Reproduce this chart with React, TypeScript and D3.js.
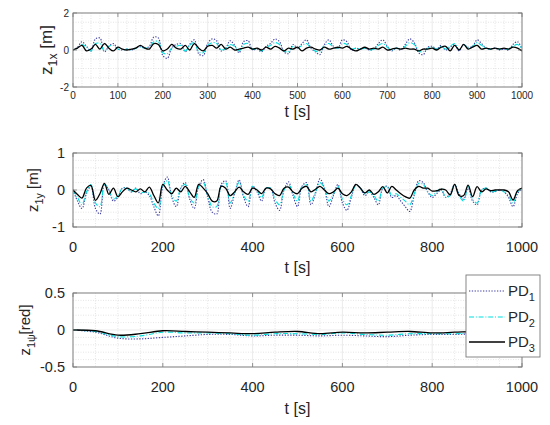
import * as d3 from "d3";

const WIDTH = 550;
const HEIGHT = 425;
const LEFT = 73;
const RIGHT = 522;
const PLOT_H = 74;

// sample times (s)
const time10 = d3.range(0, 1001, 10);
const time50 = d3.range(0, 1001, 50);

// z1x [m], every 10 s
const zxPD1 = [0, 0.15, 0.45, 0.2, -0.05, 0.6, 0.65, -0.1, 0.2, 0.35, 0.05, 0, 0.05, 0, 0.1, 0.2, 0.1, 0.2, 0.7, 0.65, -0.3, -0.45, 0.1, 0.3, 0.35, -0.1, 0.3, 0.55, -0.2, -0.3, 0.35, 0.6, 0.5, -0.05, 0.1, 0.5, 0.25, -0.15, 0.45, 0.5, 0, 0.05, -0.1, 0.2, 0.35, 0.6, 0.45, -0.1, -0.2, 0.3, 0.1, 0.35, 0.55, 0.1, -0.1, -0.25, 0.3, 0.55, 0.2, 0.1, 0.55, 0.45, 0, 0.1, 0.05, 0.1, 0, 0.05, 0.35, 0.55, 0.2, -0.05, 0.1, 0, 0.3, 0.6, 0.4, -0.15, -0.25, 0.15, 0.2, 0.05, 0.25, 0, 0.15, 0.3, -0.05, 0.3, 0.15, 0.2, 0.55, 0.35, 0.1, 0.05, 0.1, 0, 0.05, 0, 0.3, 0.45, 0.05];
const zxPD2 = [0, 0.1, 0.3, 0.15, -0.05, 0.35, 0.35, -0.05, 0.2, 0.25, 0.05, 0, 0.05, 0, 0.1, 0.15, 0.1, 0.15, 0.45, 0.45, -0.15, -0.2, 0.1, 0.2, 0.25, -0.05, 0.25, 0.4, -0.1, -0.15, 0.25, 0.4, 0.35, 0, 0.1, 0.3, 0.2, -0.05, 0.3, 0.35, 0.05, 0.05, -0.05, 0.15, 0.25, 0.4, 0.3, -0.05, -0.1, 0.2, 0.1, 0.25, 0.35, 0.1, -0.05, -0.1, 0.25, 0.35, 0.15, 0.1, 0.35, 0.3, 0.05, 0.1, 0.05, 0.1, 0, 0.05, 0.25, 0.35, 0.15, 0, 0.1, 0.05, 0.2, 0.4, 0.3, -0.05, -0.1, 0.1, 0.15, 0.05, 0.2, 0.05, 0.2, 0.35, 0, 0.3, 0.1, 0.2, 0.4, 0.25, 0.1, 0.05, 0.1, 0.05, 0.05, 0.05, 0.2, 0.3, 0.05];
const zxPD3 = [0, 0.1, 0.25, -0.05, 0.05, 0.3, 0.05, 0.35, 0.1, -0.05, 0.15, 0.05, 0, 0.05, 0.1, 0.25, 0.1, 0.05, 0.35, 0.3, -0.05, 0.05, 0.3, 0.1, 0.05, 0.25, 0, 0.35, 0.1, -0.05, 0.2, 0.25, 0.1, 0.3, 0.05, 0.15, 0, 0.05, 0.1, 0.15, 0.05, 0.1, 0, 0.15, 0.05, 0.2, 0.1, -0.05, 0.1, 0.05, 0.15, -0.05, 0.1, 0.15, 0.05, 0, 0.15, 0.05, 0.1, 0.15, 0.1, 0.2, 0.05, -0.05, 0.05, 0.15, 0.05, 0.1, 0.05, 0.15, 0, 0.05, 0.1, 0.05, 0.1, 0.05, 0.05, -0.05, 0.05, 0.05, 0.1, 0, 0.15, 0.2, -0.05, 0.25, 0, 0.3, 0.05, 0.15, 0.25, 0.05, 0.1, 0.05, 0.1, 0.05, 0.1, 0.05, 0.15, 0.1, -0.05];

// z1y [m], every 10 s
const zyPD1 = [0, -0.3, -0.5, -0.1, 0.1, -0.5, -0.65, 0.15, 0, -0.3, -0.2, 0.05, 0.05, -0.05, 0.05, -0.1, -0.05, -0.15, -0.45, -0.7, 0.1, 0.35, -0.2, -0.45, 0.05, 0.2, -0.25, -0.5, 0.1, 0.28, -0.2, -0.6, -0.65, 0.15, 0.25, -0.5, -0.1, 0.27, -0.2, -0.45, 0.1, -0.05, -0.3, 0.05, 0.05, -0.35, -0.55, 0, 0.22, -0.15, -0.45, 0.1, 0.2, -0.4, -0.1, 0.3, 0.05, -0.45, -0.15, 0.15, -0.35, -0.55, -0.2, 0.15, 0.05, -0.15, -0.05, -0.2, -0.4, 0.05, 0.1, -0.2, -0.15, -0.3, -0.45, -0.58, -0.15, 0.25, 0.2, -0.05, -0.2, -0.1, 0, -0.2, -0.1, 0.15, -0.1, -0.25, 0.05, -0.3, -0.4, 0, 0.05, -0.05, -0.05, 0, -0.05, -0.2, -0.45, -0.1, 0.05];
const zyPD2 = [0, -0.2, -0.4, -0.05, 0.15, -0.35, -0.45, 0.15, 0, -0.25, -0.15, 0.05, 0.05, -0.05, 0.03, -0.08, -0.05, -0.1, -0.35, -0.5, 0.1, 0.25, -0.15, -0.3, 0.05, 0.15, -0.2, -0.35, 0.1, 0.2, -0.15, -0.45, -0.45, 0.1, 0.2, -0.35, -0.05, 0.2, -0.15, -0.3, 0.1, 0, -0.2, 0.05, 0.05, -0.25, -0.4, 0, 0.15, -0.1, -0.3, 0.1, 0.15, -0.3, -0.05, 0.2, 0.05, -0.3, -0.1, 0.1, -0.25, -0.4, -0.15, 0.12, 0.05, -0.1, -0.05, -0.15, -0.3, 0.05, 0.08, -0.15, -0.1, -0.2, -0.3, -0.4, -0.1, 0.18, 0.15, -0.05, -0.15, -0.05, 0.05, -0.2, -0.15, 0.15, -0.15, -0.3, 0.1, -0.25, -0.35, 0, 0.05, -0.05, -0.03, 0, -0.05, -0.15, -0.35, -0.05, 0.05];
const zyPD3 = [0, -0.12, -0.22, 0.05, 0.12, -0.28, -0.1, 0.18, -0.12, 0.05, -0.18, -0.05, 0.05, 0, -0.05, 0.03, -0.05, 0.08, -0.15, -0.35, 0.15, 0, -0.1, 0.05, -0.05, 0.1, -0.05, -0.2, 0.15, 0.05, -0.1, -0.3, -0.3, 0.1, 0.05, -0.15, -0.05, 0.08, -0.05, -0.12, 0.05, 0, -0.1, 0.05, 0.03, -0.1, -0.15, 0.05, 0.08, -0.05, -0.1, 0.05, 0.1, -0.05, 0.02, 0.1, 0, -0.1, -0.05, 0.05, -0.1, -0.15, -0.05, 0.15, 0.05, -0.08, 0, -0.12, -0.05, 0.09, -0.08, 0.1, 0, -0.1, -0.18, -0.22, 0, 0.1, 0.05, 0.05, -0.03, -0.02, 0.02, 0, -0.13, 0.15, -0.15, -0.15, 0.13, -0.18, 0.09, -0.05, 0.03, -0.02, 0, 0, 0, -0.05, -0.27, -0.02, 0.05];

// z1psi [rad], every 50 s
const zpPD1 = [0, -0.03, -0.11, -0.12, -0.1, -0.08, -0.06, -0.06, -0.08, -0.07, -0.07, -0.08, -0.07, -0.08, -0.09, -0.07, -0.06, -0.06, -0.05, -0.05, -0.05];
const zpPD2 = [0, -0.02, -0.09, -0.08, -0.03, -0.04, -0.04, -0.05, -0.07, -0.05, -0.05, -0.06, -0.04, -0.06, -0.07, -0.05, -0.05, -0.05, -0.04, -0.04, -0.04];
const zpPD3 = [0, -0.01, -0.07, -0.05, -0.01, -0.02, -0.03, -0.04, -0.05, -0.03, -0.02, -0.05, -0.03, -0.04, -0.03, -0.02, -0.04, -0.03, -0.02, -0.02, -0.02];

const legendNames = ["PD", "PD", "PD"];
const legendSubs = ["1", "2", "3"];

const STYLES = [
  { color: "#3a3aa0", dash: "1.3 1.5", width: 1.1 },
  { color: "#00dede", dash: "5 1.8 1 1.8", width: 1.1 },
  { color: "#000000", dash: undefined, width: 1.3 },
];

const FONT = "'Liberation Sans', Arial, sans-serif";
const TXT = "#262626";

interface PanelProps {
  id: string;
  top: number;
  yDomain: [number, number];
  yTicks: number[];
  yMinor: number;
  xTickStep: number;
  xMinor: number;
  tickFont: number;
  tickLabelY: number;
  yTickX: number;
  times: number[];
  series: number[][];
  yMain: string;
  ySub: string;
  yUnit: string;
  yLabelX: number;
  yLabelFont: number;
  xLabelY: number;
}

function Panel(p: PanelProps) {
  const bottom = p.top + PLOT_H;
  const x = d3.scaleLinear().domain([0, 1000]).range([LEFT, RIGHT]);
  const y = d3.scaleLinear().domain(p.yDomain).range([bottom, p.top]);
  const xTicks = d3.range(0, 1001, p.xTickStep);
  const xMinor = d3.range(0, 1001, p.xMinor).filter((v) => v % p.xTickStep !== 0);
  const yMinor = d3
    .range(p.yDomain[0], p.yDomain[1] + 1e-9, p.yMinor)
    .filter((v) => !p.yTicks.some((t) => Math.abs(t - v) < 1e-9));
  const line = d3
    .line<number>()
    .x((_, i) => x(p.times[i]))
    .y((d) => y(d))
    .curve(d3.curveCatmullRom.alpha(0.5));
  const tl = 4;

  return (
    <g>
      <defs>
        <clipPath id={`clip-${p.id}`}>
          <rect x={LEFT} y={p.top} width={RIGHT - LEFT} height={PLOT_H} />
        </clipPath>
      </defs>
      <rect x={LEFT} y={p.top} width={RIGHT - LEFT} height={PLOT_H} fill="#fff" />
      {xMinor.map((v) => (
        <line key={`xm${v}`} x1={x(v)} x2={x(v)} y1={p.top} y2={bottom} stroke="#d4d4d4" strokeWidth={0.6} strokeDasharray="1 1.5" />
      ))}
      {yMinor.map((v) => (
        <line key={`ym${v}`} x1={LEFT} x2={RIGHT} y1={y(v)} y2={y(v)} stroke="#d4d4d4" strokeWidth={0.6} strokeDasharray="1 1.5" />
      ))}
      {xTicks.map((v) => (
        <line key={`xg${v}`} x1={x(v)} x2={x(v)} y1={p.top} y2={bottom} stroke="#e2e2e2" strokeWidth={0.7} />
      ))}
      {p.yTicks.map((v) => (
        <line key={`yg${v}`} x1={LEFT} x2={RIGHT} y1={y(v)} y2={y(v)} stroke="#e2e2e2" strokeWidth={0.7} />
      ))}
      <g clipPath={`url(#clip-${p.id})`}>
        {p.series.map((s, i) => (
          <path
            key={i}
            d={line(s) ?? ""}
            fill="none"
            stroke={STYLES[i].color}
            strokeWidth={STYLES[i].width}
            strokeDasharray={STYLES[i].dash}
          />
        ))}
      </g>
      {xTicks.map((v) => (
        <g key={`xt${v}`} stroke="#7a7a7a" strokeWidth={0.8}>
          <line x1={x(v)} x2={x(v)} y1={bottom} y2={bottom - tl} />
          <line x1={x(v)} x2={x(v)} y1={p.top} y2={p.top + tl} />
        </g>
      ))}
      {p.yTicks.map((v) => (
        <g key={`yt${v}`} stroke="#7a7a7a" strokeWidth={0.8}>
          <line x1={LEFT} x2={LEFT + tl} y1={y(v)} y2={y(v)} />
          <line x1={RIGHT} x2={RIGHT - tl} y1={y(v)} y2={y(v)} />
        </g>
      ))}
      <rect x={LEFT} y={p.top} width={RIGHT - LEFT} height={PLOT_H} fill="none" stroke="#7a7a7a" strokeWidth={0.9} />
      {xTicks.map((v) => (
        <text key={`xl${v}`} x={x(v)} y={p.tickLabelY} textAnchor="middle" fontSize={p.tickFont} fill={TXT}>
          {v}
        </text>
      ))}
      {p.yTicks.map((v) => (
        <text key={`yl${v}`} x={p.yTickX} y={y(v)} dy="0.35em" textAnchor="end" fontSize={p.tickFont} fill={TXT}>
          {v}
        </text>
      ))}
      <text
        transform={`translate(${p.yLabelX},${p.top + PLOT_H / 2}) rotate(-90)`}
        textAnchor="middle"
        fontSize={p.yLabelFont}
        fill={TXT}
      >
        {p.yMain}
        <tspan dy="5" fontSize={p.yLabelFont * 0.72}>{p.ySub}</tspan>
        <tspan dy="-5">{p.yUnit}</tspan>
      </text>
      <text x={(LEFT + RIGHT) / 2} y={p.xLabelY} textAnchor="middle" fontSize={16} fill={TXT}>
        t [s]
      </text>
    </g>
  );
}

function Legend() {
  const left = 466;
  const top = 275;
  const rowY = [291, 317, 342];
  return (
    <g>
      <rect x={left} y={top} width={74} height={82} fill="#fff" stroke="#7a7a7a" strokeWidth={0.9} />
      {legendNames.map((name, i) => (
        <g key={i}>
          <line
            x1={469}
            x2={505}
            y1={rowY[i]}
            y2={rowY[i]}
            stroke={STYLES[i].color}
            strokeWidth={STYLES[i].width}
            strokeDasharray={STYLES[i].dash}
          />
          <text x={508} y={rowY[i]} dy="0.35em" fontSize={15} fill={TXT}>
            {name}
            <tspan dy="5" fontSize={11}>{legendSubs[i]}</tspan>
          </text>
        </g>
      ))}
    </g>
  );
}

export default function App() {
  return (
    <svg
      width={WIDTH}
      height={HEIGHT}
      style={{ position: "absolute", left: 0, top: 0, background: "#fff" }}
      fontFamily={FONT}
    >
      <Panel
        id="p1"
        top={13}
        yDomain={[-2, 2]}
        yTicks={[-2, 0, 2]}
        yMinor={0.5}
        xTickStep={100}
        xMinor={20}
        tickFont={10}
        tickLabelY={99}
        yTickX={69}
        times={time10}
        series={[zxPD1, zxPD2, zxPD3]}
        yMain="z"
        ySub="1x"
        yUnit=" [m]"
        yLabelX={52}
        yLabelFont={17}
        xLabelY={117}
      />
      <Panel
        id="p2"
        top={153}
        yDomain={[-1, 1]}
        yTicks={[-1, 0, 1]}
        yMinor={0.2}
        xTickStep={200}
        xMinor={50}
        tickFont={14.5}
        tickLabelY={252}
        yTickX={65}
        times={time10}
        series={[zyPD1, zyPD2, zyPD3]}
        yMain="z"
        ySub="1y"
        yUnit=" [m]"
        yLabelX={38}
        yLabelFont={15}
        xLabelY={273}
      />
      <Panel
        id="p3"
        top={293}
        yDomain={[-0.5, 0.5]}
        yTicks={[-0.5, 0, 0.5]}
        yMinor={0.1}
        xTickStep={200}
        xMinor={50}
        tickFont={14.5}
        tickLabelY={392}
        yTickX={65}
        times={time50}
        series={[zpPD1, zpPD2, zpPD3]}
        yMain="z"
        ySub="1ψ"
        yUnit="[red]"
        yLabelX={30}
        yLabelFont={15}
        xLabelY={414}
      />
      <Legend />
    </svg>
  );
}
